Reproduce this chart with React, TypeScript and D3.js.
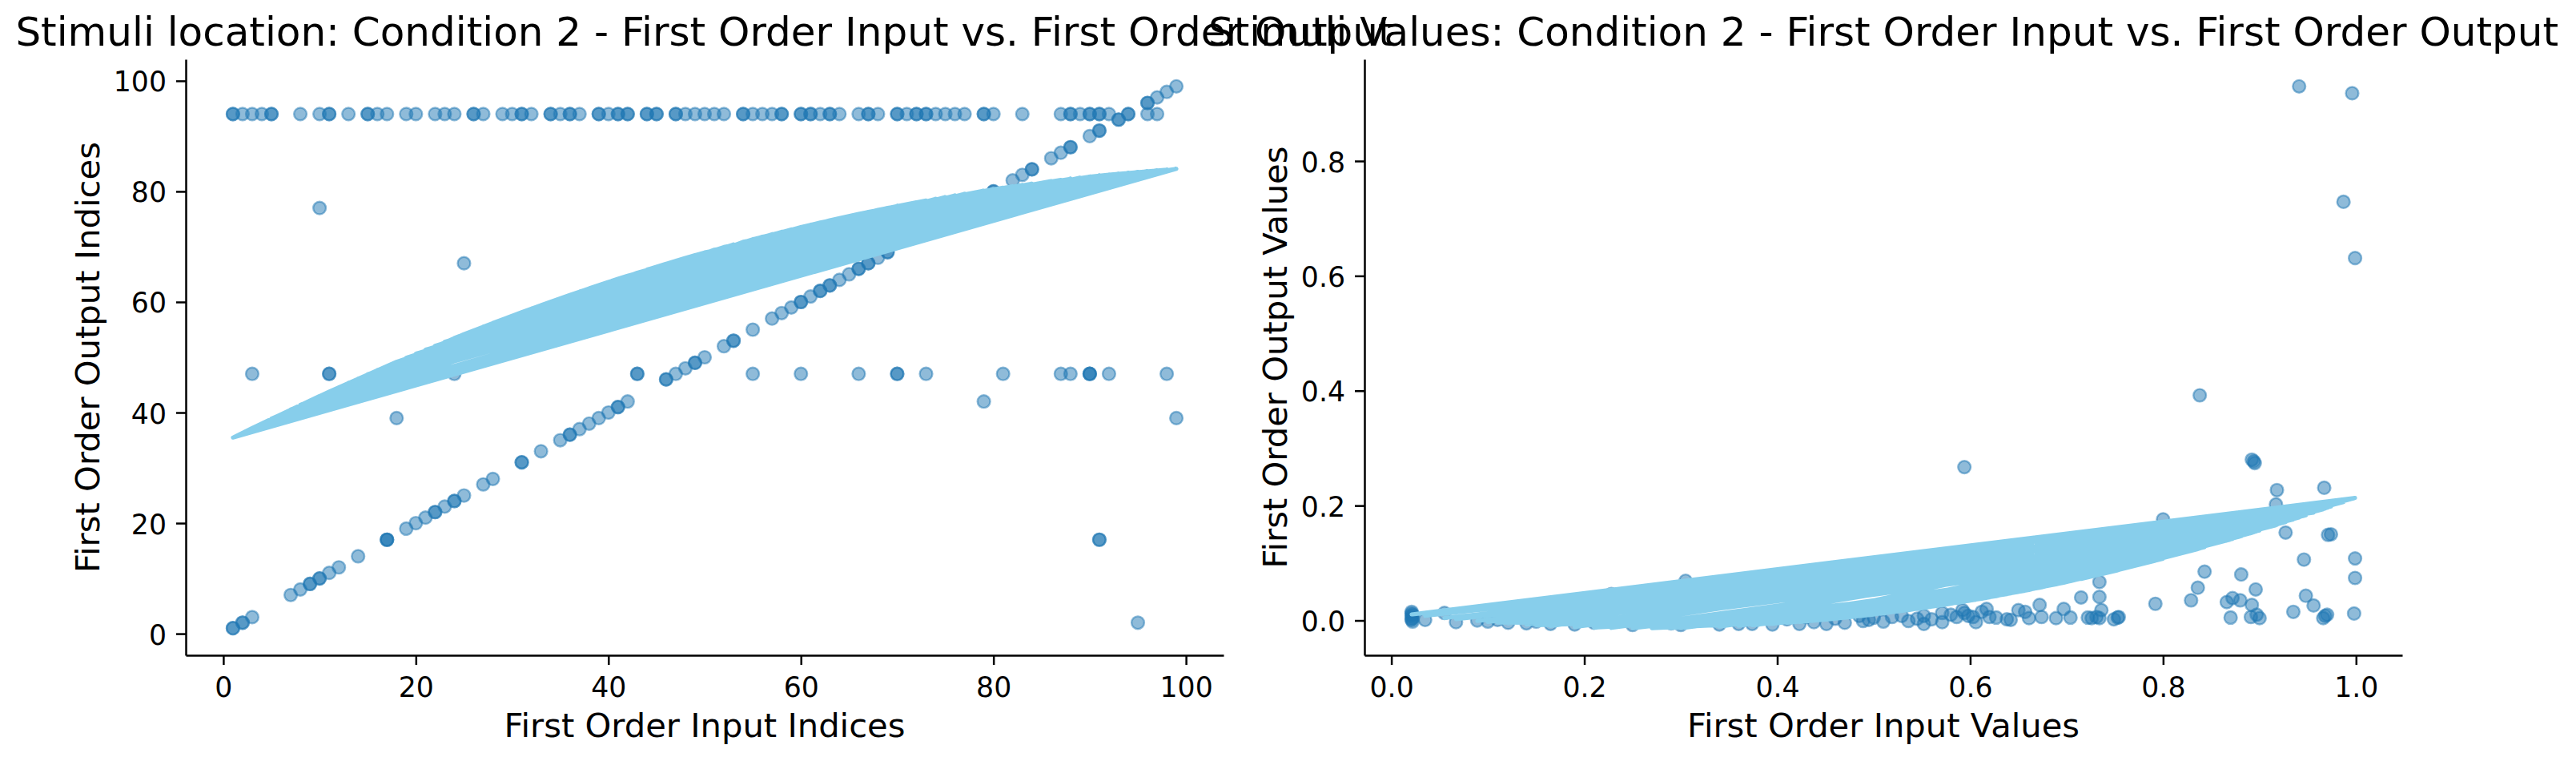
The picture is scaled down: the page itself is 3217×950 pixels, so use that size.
import * as d3 from "d3";
import React, { useEffect, useRef } from "react";

// Stimuli location panel, one entry per trial (trial order)
const locInput = [
  1, 99, 50, 1, 72, 24, 30, 52, 3,
  1, 98, 51, 1, 72, 25, 31, 53, 11,
  2, 97, 52, 2, 73, 27, 31, 53, 10,
  3, 96, 54, 2, 73, 28, 32, 55, 11,
  4, 96, 54, 3, 74, 31, 34, 57, 24,
  5, 94, 55, 7, 75, 31, 34, 58, 25,
  5, 93, 56, 8, 76, 33, 35, 59, 43,
  8, 93, 57, 9, 77, 35, 36, 60, 43,
  10, 91, 58, 9, 79, 36, 36, 60, 18,
  11, 91, 58, 10, 79, 36, 37, 61, 55,
  11, 90, 60, 10, 80, 37, 39, 62, 60,
  13, 88, 60, 11, 83, 38, 39, 62, 79,
  15, 88, 61, 12, 87, 39, 40, 63, 66,
  15, 87, 61, 14, 88, 40, 41, 63, 70,
  16, 86, 62, 17, 88, 41, 41, 64, 99,
  17, 84, 63, 17, 89, 41, 42, 65, 70,
  19, 84, 63, 17, 90, 42, 42, 66, 73,
  20, 83, 64, 19, 90, 46, 44, 66, 91,
  22, 82, 66, 20, 91, 46, 44, 67, 81,
  23, 80, 67, 21, 91, 47, 45, 67, 87,
  24, 80, 67, 22, 92, 48, 45, 68, 91,
  26, 73, 68, 22, 94, 49, 47, 69, 88,
  26, 72, 70, 23, 96, 49, 47, 69, 90,
  27, 70, 24, 97, 50, 48, 95,
  29, 71, 49, 90, 90, 92, 98,
];
const locOutput = [
  94, 99, 94, 1, 94, 24, 94, 52, 47,
  94, 98, 94, 1, 94, 25, 94, 53, 47,
  94, 97, 94, 2, 94, 27, 94, 53, 77,
  94, 96, 94, 2, 94, 28, 94, 55, 47,
  94, 96, 94, 3, 94, 31, 94, 57, 47,
  94, 94, 94, 7, 94, 31, 94, 58, 67,
  94, 93, 94, 8, 94, 33, 94, 59, 47,
  94, 93, 94, 9, 94, 35, 94, 60, 47,
  94, 91, 94, 9, 94, 36, 94, 60, 39,
  94, 91, 94, 10, 94, 36, 94, 61, 47,
  94, 90, 94, 10, 94, 37, 94, 62, 47,
  94, 88, 94, 11, 94, 38, 94, 62, 42,
  94, 88, 94, 12, 94, 39, 94, 63, 47,
  94, 87, 94, 14, 94, 40, 94, 63, 47,
  94, 86, 94, 17, 94, 41, 94, 64, 39,
  94, 84, 94, 17, 94, 41, 94, 65, 47,
  94, 84, 94, 17, 94, 42, 94, 66, 47,
  94, 83, 94, 19, 94, 46, 94, 66, 17,
  94, 82, 94, 20, 94, 46, 94, 67, 47,
  94, 80, 94, 21, 94, 47, 94, 67, 47,
  94, 80, 94, 22, 94, 48, 94, 68, 17,
  94, 73, 94, 22, 94, 49, 94, 69, 47,
  94, 72, 94, 23, 94, 49, 94, 69, 47,
  94, 94, 24, 94, 50, 94, 2,
  94, 94, 94, 47, 47, 47, 47,
];

// Stimuli values panel (trial order)
const valInput = [
  0.999, 0.021, 0.999, 0.594, 0.374, 0.38,
  0.999, 0.021, 0.998, 0.603, 0.395, 0.11,
  0.996, 0.022, 0.987, 0.606, 0.423, 0.46,
  0.974, 0.021, 0.971, 0.612, 0.438, 0.27,
  0.970, 0.022, 0.968, 0.617, 0.451, 0.50,
  0.967, 0.021, 0.966, 0.620, 0.485, 0.15,
  0.956, 0.021, 0.948, 0.627, 0.489, 0.41,
  0.946, 0.022, 0.941, 0.638, 0.495, 0.56,
  0.935, 0.035, 0.927, 0.642, 0.519, 0.21,
  0.918, 0.055, 0.917, 0.650, 0.529, 0.47,
  0.900, 0.067, 0.897, 0.657, 0.536, 0.29,
  0.896, 0.089, 0.895, 0.661, 0.552, 0.545,
  0.894, 0.100, 0.892, 0.672, 0.552, 0.43,
  0.892, 0.121, 0.891, 0.674, 0.571, 0.58,
  0.881, 0.140, 0.880, 0.689, 0.571, 0.51,
  0.872, 0.165, 0.870, 0.697, 0.586,
  0.866, 0.190, 0.843, 0.704, 0.592,
  0.838, 0.228, 0.836, 0.722, 0.598,
  0.829, 0.250, 0.726, 0.800, 0.300, 0.731, 0.792, 0.305, 0.734, 0.734,
  0.340, 0.736, 0.734, 0.360, 0.749, 0.715, 0.753, 0.594, 0.754, 0.612,
];
const valOutput = [
  0.631, 0.015, 0.074, 0.013, -0.006, 0.004,
  0.108, 0.012, 0.012, 0.006, -0.007, 0.001,
  0.918, 0.010, 0.729, -0.003, -0.006, 0.003,
  0.150, 0.008, 0.149, 0.015, -0.003, 0.002,
  0.010, 0.005, 0.008, 0.020, -0.006, 0.005,
  0.231, 0.003, 0.004, 0.006, 0.008, -0.002,
  0.026, 0.001, 0.043, 0.005, -0.001, 0.002,
  0.106, -0.002, 0.930, 0.002, 0.001, 0.002,
  0.015, 0.001, 0.153, 0.001, 0.006, -0.004,
  0.227, 0.013, 0.202, 0.018, 0.008, -0.004,
  0.004, -0.003, 0.010, 0.015, -0.001, -0.005,
  0.054, 0.000, 0.274, 0.004, 0.008, 0.003,
  0.277, -0.002, 0.280, 0.027, -0.006, 0.006,
  0.027, -0.004, 0.006, 0.006, 0.013, 0.010,
  0.080, -0.005, 0.035, 0.004, -0.003, -0.002,
  0.039, -0.006, 0.005, 0.020, 0.006,
  0.032, -0.007, 0.085, 0.005, 0.018,
  0.392, 0.046, 0.057, 0.005, 0.008,
  0.035, -0.008, 0.004, 0.176, -0.008, 0.006, 0.029, 0.069, 0.004, 0.041,
  -0.007, 0.018, 0.067, -0.006, 0.002, 0.040, 0.005, 0.267, 0.006, 0.111,
];

// quadratic trend coefficients [c0, c1, c2]
const locFit = [34.6, 0.879, -0.00383];
const valFit = [0.015, -0.218, 0.417];

const locTicks = [0, 20, 40, 60, 80, 100];
const valXTicks = [0, 0.2, 0.4, 0.6, 0.8, 1.0];
const valYTicks = [0, 0.2, 0.4, 0.6, 0.8];

const FONT = "DejaVu Sans, sans-serif";

function drawPanel(root, cfg) {
  const { x0, x1, y0, y1, xs, ys, coef, xTicks, yTicks, fmt, title, xLabel, yLabel, yLabelX } = cfg;
  const fit = (v) => coef[0] + coef[1] * v + coef[2] * v * v;
  const pad = ([lo, hi]) => {
    const s = hi - lo;
    return [lo - 0.05 * s, hi + 0.05 * s];
  };

  const x = d3.scaleLinear().domain(pad(d3.extent(xs))).range([x0, x1]);
  const y = d3.scaleLinear().domain(pad(d3.extent(ys.concat(xs.map(fit))))).range([y1, y0]);

  const g = root.append("g");

  g.append("g")
    .selectAll("circle")
    .data(xs)
    .join("circle")
      .attr("cx", (d) => x(d))
      .attr("cy", (d, i) => y(ys[i]))
      .attr("r", 7.9)
      .attr("fill", "#1f77b4")
      .attr("fill-opacity", 0.5)
      .attr("stroke", "#1f77b4")
      .attr("stroke-opacity", 0.5)
      .attr("stroke-width", 2.4);

  // trend evaluated at each trial, joined in trial order
  const line = d3.line<number>().x((d) => x(d)).y((d) => y(fit(d)));
  g.append("path")
    .attr("d", line(xs))
    .attr("fill", "none")
    .attr("stroke", "skyblue")
    .attr("stroke-width", 5)
    .attr("stroke-linejoin", "round")
    .attr("stroke-linecap", "butt");

  const xAxis = g.append("g")
    .attr("transform", `translate(0,${y1})`)
    .call(d3.axisBottom(x).tickValues(xTicks).tickFormat(fmt).tickSize(12).tickSizeOuter(0).tickPadding(15.4));
  const yAxis = g.append("g")
    .attr("transform", `translate(${x0},0)`)
    .call(d3.axisLeft(y).tickValues(yTicks).tickFormat(fmt).tickSize(12).tickSizeOuter(0).tickPadding(12));

  [xAxis, yAxis].forEach((a) => {
    a.attr("font-family", FONT).attr("font-size", 34.7);
    a.select(".domain").attr("stroke-width", 2.5);
    a.selectAll(".tick line").attr("stroke-width", 2.5);
  });
  yAxis.selectAll(".tick text").attr("dy", "0.375em");

  const cx = (x0 + x1) / 2;
  g.append("text")
    .attr("x", cx)
    .attr("y", 920)
    .attr("text-anchor", "middle")
    .attr("font-family", FONT)
    .attr("font-size", 41.7)
    .text(xLabel);

  g.append("text")
    .attr("transform", `translate(${yLabelX},${(y0 + y1) / 2}) rotate(-90)`)
    .attr("text-anchor", "middle")
    .attr("font-family", FONT)
    .attr("font-size", 41.7)
    .text(yLabel);

  g.append("text")
    .attr("x", cx)
    .attr("y", 57)
    .attr("text-anchor", "middle")
    .attr("font-family", FONT)
    .attr("font-size", 50)
    .text(title);
}

export default function App() {
  const ref = useRef<SVGSVGElement>(null);

  useEffect(() => {
    const svg = d3.select(ref.current);
    svg.selectAll("*").remove();

    drawPanel(svg, {
      x0: 232, x1: 1528, y0: 74, y1: 818,
      xs: locInput, ys: locOutput, coef: locFit,
      xTicks: locTicks, yTicks: locTicks, fmt: d3.format("d"),
      title: "Stimuli location: Condition 2 - First Order Input vs. First Order Output",
      xLabel: "First Order Input Indices",
      yLabel: "First Order Output Indices",
      yLabelX: 124,
    });

    drawPanel(svg, {
      x0: 1704, x1: 3000, y0: 74, y1: 818,
      xs: valInput, ys: valOutput, coef: valFit,
      xTicks: valXTicks, yTicks: valYTicks, fmt: d3.format(".1f"),
      title: "Stimuli Values: Condition 2 - First Order Input vs. First Order Output",
      xLabel: "First Order Input Values",
      yLabel: "First Order Output Values",
      yLabelX: 1607,
    });
  }, []);

  return (
    <svg
      ref={ref}
      width={3217}
      height={950}
      style={{ position: "absolute", left: 0, top: 0, background: "#fff" }}
    />
  );
}
